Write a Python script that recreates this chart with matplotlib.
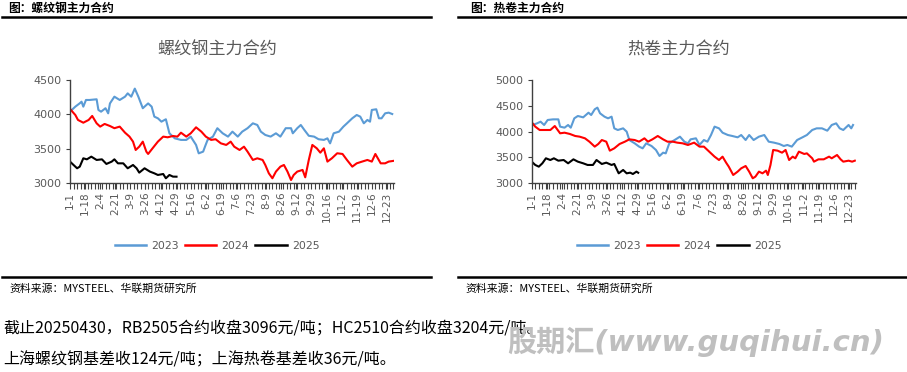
import matplotlib
matplotlib.use("Agg")
import matplotlib.pyplot as plt
from matplotlib.lines import Line2D
import numpy as np

# ── data (x = day of year, 0 = 1-1) ─────────────────────────────────────────

tick_days = list(range(0, 358, 17))
tick_labels = ["1-1", "1-18", "2-4", "2-21", "3-9", "3-26", "4-12", "4-29",
               "5-16", "6-2", "6-19", "7-6", "7-23", "8-9", "8-26", "9-12",
               "9-29", "10-16", "11-2", "11-19", "12-6", "12-23"]

# 螺纹钢
rb_2023_day = [2, 6, 11, 13, 15, 18, 22, 30, 32, 35, 40, 43, 45, 50, 56, 62, 65, 69,
               73, 77, 82, 88, 92, 95, 99, 103, 108, 112, 118, 125, 131, 136, 142,
               145, 150, 152, 155, 161, 166, 172, 178, 183, 189, 194, 200, 206, 211,
               215, 220, 226, 232, 237, 243, 249, 251, 256, 260, 264, 269, 275, 280,
               286, 290, 293, 297, 303, 308, 312, 318, 323, 327, 331, 335, 338, 340,
               345, 348, 351, 355, 359, 363]
rb_2023 = [4065, 4113, 4162, 4185, 4113, 4210, 4210, 4220, 4065, 4040, 4090, 4016,
           4160, 4258, 4210, 4258, 4306, 4258, 4375, 4258, 4090, 4160, 4113, 3968,
           3944, 3895, 3930, 3726, 3653, 3630, 3630, 3678, 3557, 3435, 3460, 3530,
           3630, 3678, 3800, 3726, 3678, 3750, 3678, 3750, 3800, 3871, 3847, 3750,
           3702, 3678, 3726, 3678, 3800, 3800, 3726, 3800, 3847, 3775, 3690, 3678,
           3640, 3630, 3653, 3580, 3726, 3750, 3823, 3871, 3944, 3992, 3968, 3871,
           3920, 3895, 4065, 4075, 3944, 3944, 4016, 4026, 4006]

rb_2024_day = [1, 6, 9, 15, 21, 25, 30, 34, 39, 45, 50, 56, 62, 67, 71, 74, 78, 82,
               86, 88, 93, 99, 105, 110, 116, 121, 125, 131, 136, 142, 148, 153, 159,
               164, 170, 176, 181, 185, 191, 196, 200, 206, 211, 217, 220, 224, 228,
               232, 237, 241, 245, 249, 252, 256, 262, 265, 269, 273, 278, 282, 286,
               290, 295, 301, 307, 312, 318, 323, 329, 335, 340, 344, 350, 355, 359,
               364]
rb_2024 = [4065, 3992, 3920, 3880, 3920, 3978, 3871, 3823, 3862, 3832, 3800, 3823,
           3735, 3678, 3605, 3484, 3532, 3605, 3460, 3426, 3508, 3605, 3678, 3668,
           3687, 3678, 3735, 3678, 3726, 3813, 3750, 3678, 3630, 3640, 3580, 3557,
           3605, 3532, 3484, 3532, 3460, 3339, 3363, 3339, 3266, 3145, 3073, 3170,
           3242, 3266, 3170, 3048, 3121, 3170, 3194, 3087, 3339, 3557, 3508, 3445,
           3508, 3315, 3363, 3436, 3426, 3339, 3242, 3290, 3315, 3339, 3315, 3426,
           3290, 3290, 3315, 3325]

rb_2025_day = [0, 4, 8, 11, 15, 19, 24, 30, 36, 41, 47, 50, 54, 60, 65, 71, 75, 78,
               84, 90, 95, 99, 105, 108, 112, 116, 120]
rb_2025 = [3315, 3266, 3218, 3242, 3363, 3348, 3387, 3339, 3348, 3281, 3315, 3348,
           3290, 3290, 3218, 3266, 3218, 3155, 3218, 3170, 3145, 3121, 3135, 3073,
           3121, 3097, 3096]

# 热卷
hc_2023_day = [1, 6, 10, 14, 18, 24, 30, 32, 37, 41, 44, 48, 52, 58, 64, 67, 71, 74,
               77, 82, 86, 90, 93, 97, 103, 107, 110, 116, 121, 125, 129, 135, 140,
               144, 148, 151, 155, 161, 167, 172, 176, 179, 185, 189, 194, 198, 202,
               206, 211, 215, 221, 226, 232, 236, 241, 245, 250, 256, 262, 267, 273,
               279, 284, 288, 293, 299, 305, 310, 316, 321, 327, 333, 338, 343, 347,
               351, 357, 360, 362]
hc_2023 = [4129, 4161, 4193, 4129, 4226, 4238, 4238, 4097, 4077, 4129, 4077, 4258,
           4303, 4277, 4367, 4322, 4432, 4465, 4355, 4290, 4258, 4290, 4064, 4032,
           4064, 4000, 3838, 3774, 3710, 3677, 3774, 3722, 3645, 3529, 3593, 3580,
           3774, 3838, 3903, 3806, 3774, 3851, 3871, 3742, 3838, 3806, 3935, 4097,
           4064, 3980, 3935, 3916, 3890, 3935, 3838, 3935, 3838, 3903, 3935, 3806,
           3787, 3761, 3722, 3742, 3710, 3838, 3890, 3935, 4032, 4064, 4064, 4019,
           4129, 4161, 4064, 4032, 4129, 4064, 4129]

hc_2024_day = [1, 4, 9, 15, 21, 26, 32, 37, 43, 49, 54, 60, 65, 71, 75, 79, 84, 88,
               93, 99, 105, 110, 116, 121, 127, 131, 136, 142, 148, 153, 159, 164,
               170, 176, 183, 189, 194, 200, 206, 211, 215, 219, 222, 227, 232, 236,
               241, 245, 249, 252, 256, 260, 264, 266, 269, 272, 277, 282, 286, 290,
               294, 297, 301, 307, 310, 316, 318, 323, 329, 335, 338, 344, 348, 351,
               357, 361, 364]
hc_2024 = [4161, 4097, 4032, 4032, 4032, 4109, 3968, 3980, 3955, 3916, 3903, 3871,
           3806, 3710, 3761, 3838, 3806, 3632, 3677, 3761, 3806, 3851, 3838, 3806,
           3871, 3806, 3851, 3916, 3851, 3806, 3806, 3787, 3774, 3742, 3787, 3710,
           3710, 3613, 3516, 3451, 3516, 3400, 3322, 3161, 3226, 3290, 3335, 3226,
           3097, 3129, 3226, 3193, 3245, 3161, 3355, 3645, 3632, 3593, 3645, 3451,
           3516, 3484, 3613, 3568, 3580, 3484, 3419, 3464, 3464, 3516, 3484, 3548,
           3464, 3419, 3438, 3419, 3438]

hc_2025_day = [0, 4, 8, 12, 16, 21, 25, 30, 36, 41, 47, 52, 58, 63, 69, 73, 79, 84,
               90, 93, 98, 103, 107, 111, 114, 118, 120]
hc_2025 = [3419, 3355, 3322, 3387, 3484, 3451, 3484, 3438, 3451, 3387, 3464, 3419,
           3387, 3355, 3355, 3451, 3374, 3400, 3355, 3374, 3193, 3258, 3193, 3206,
           3180, 3226, 3204]

W, H = 907, 372
BLUE = "#5b9bd5"
RED = "#ff0000"
BLACK = "#000000"
GRAY = "#595959"
CJK = ["Noto Sans CJK SC", "DejaVu Sans"]


def fx(px):
    return px / W


def fy(py):
    return 1 - py / H


def hline(fig, x0, x1, y, lw=1.8):
    fig.add_artist(Line2D([fx(x0), fx(x1)], [fy(y), fy(y)],
                          color="black", linewidth=lw))


def draw_panel(fig, left, header, title, ylim, yticks, series, cx):
    # header + rule above the chart
    fig.text(fx(left + 6), fy(8), header, family=CJK, fontsize=8.5,
             fontweight="bold", va="center", ha="left")

    ax = fig.add_axes([fx(left + 68), fy(183.3), fx(324), 103.3 / H])
    for days, vals, clr in series:
        ax.plot(days, vals, color=clr, linewidth=1.5, solid_joinstyle="round")

    ax.set_xlim(0, 365)
    ax.set_ylim(*ylim)
    ax.set_yticks(yticks)
    ax.set_xticks(tick_days)
    ax.set_xticklabels(tick_labels, rotation=90)
    ax.set_xticks(np.arange(0, 366, 4), minor=True)
    for s in ("top", "right"):
        ax.spines[s].set_visible(False)
    for s in ("left", "bottom"):
        ax.spines[s].set_color("#404040")
        ax.spines[s].set_linewidth(1.0)
    ax.tick_params(axis="x", which="both", length=4, width=0.8,
                   color="#404040", labelsize=7.5, labelcolor=GRAY, pad=2)
    ax.tick_params(axis="y", length=3, width=0.8, color="#404040",
                   labelsize=8, labelcolor=GRAY, pad=3)
    ax.set_facecolor("none")

    fig.text(fx(cx), fy(50), title, family=CJK, fontsize=12.3,
             color=GRAY, ha="center", va="center")

    handles = [Line2D([], [], color=c, linewidth=1.8) for c in (BLUE, RED, BLACK)]
    fig.legend(handles, ["2023", "2024", "2025"], loc="center",
               bbox_to_anchor=(fx(cx), fy(246)), ncol=3, frameon=False,
               fontsize=7.8, labelcolor=GRAY, handlelength=2.9,
               handletextpad=0.45, columnspacing=0.6)
    return ax


fig = plt.figure(figsize=(W / 100, H / 100), dpi=100)

draw_panel(fig, 2, "图：螺纹钢主力合约", "螺纹钢主力合约",
           (3000, 4500), [3000, 3500, 4000, 4500],
           [(rb_2023_day, rb_2023, BLUE), (rb_2024_day, rb_2024, RED),
            (rb_2025_day, rb_2025, BLACK)], 217)
draw_panel(fig, 463.7, "图：热卷主力合约", "热卷主力合约",
           (3000, 5000), [3000, 3500, 4000, 4500, 5000],
           [(hc_2023_day, hc_2023, BLUE), (hc_2024_day, hc_2024, RED),
            (hc_2025_day, hc_2025, BLACK)], 679)

# rules above/below both panels
hline(fig, 2, 431, 17)
hline(fig, 458, 907, 17)
hline(fig, 2, 431, 277)
hline(fig, 458, 907, 277)

src = "资料来源：MYSTEEL、华联期货研究所"
fig.text(fx(9), fy(289), src, family=CJK, fontsize=7.8, va="center")
fig.text(fx(465), fy(289), src, family=CJK, fontsize=7.8, va="center")

fig.text(fx(3), fy(328),
         "截止20250430，RB2505合约收盘3096元/吨；HC2510合约收盘3204元/吨。",
         family=CJK, fontsize=11.5, va="center")
fig.text(fx(3), fy(360),
         "上海螺纹钢基差收124元/吨；上海热卷基差收36元/吨。",
         family=CJK, fontsize=11.5, va="center")

# watermark
fig.text(fx(696), fy(342), "股期汇(www.guqihui.cn)",
         family=["DejaVu Sans", "Noto Sans CJK SC"], fontsize=21,
         fontweight="bold", fontstyle="italic", color="#bfbfbf",
         ha="center", va="center")

fig.savefig("out.png", dpi=100, facecolor="white")
